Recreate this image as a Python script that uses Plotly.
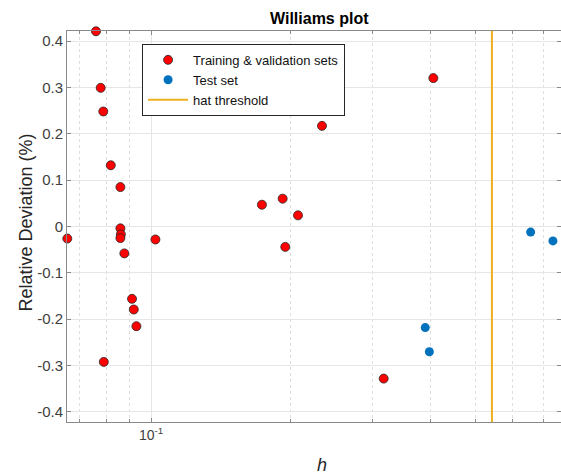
"""
Williams plot: relative deviation vs leverage (h) on a log axis
"""
import numpy as np
import plotly.graph_objects as go

# Training & validation sets (leverage h, relative deviation %)
train_h = [0.0761, 0.0779, 0.0789, 0.0819, 0.0859, 0.0660, 0.0859, 0.0861,
           0.0859, 0.0876, 0.1022, 0.0910, 0.0918, 0.0930, 0.0791, 0.1734,
           0.1922, 0.1947, 0.2074, 0.2336, 0.4060, 0.3173]
train_dev = [0.421, 0.299, 0.248, 0.132, 0.085, -0.026, -0.004, -0.017,
             -0.025, -0.058, -0.028, -0.156, -0.179, -0.215, -0.292, 0.047,
             0.060, -0.044, 0.024, 0.217, 0.320, -0.328]

# Test set
test_h = [0.390, 0.398, 0.658, 0.735]
test_dev = [-0.218, -0.270, -0.012, -0.031]

# warning leverage
hat_threshold = 0.543

y_ticks = [-0.4, -0.3, -0.2, -0.1, 0, 0.1, 0.2, 0.3, 0.4]
y_ticktext = ['-0.4', '-0.3', '-0.2', '-0.1', '0', '0.1', '0.2', '0.3', '0.4']
x_major = [0.1]
x_major_text = ['10<sup>-1</sup>']
x_minor = [0.07, 0.08, 0.09, 0.2, 0.3, 0.4, 0.5, 0.6, 0.7]

y_lim = [-0.4216, 0.4216]
x_lim = [0.0659, 0.765]

FONT = 'Liberation Sans, Arial, sans-serif'
AXIS_GRAY = '#8a8a8a'

fig = go.Figure()

fig.add_trace(go.Scatter(
    x=train_h, y=train_dev,
    mode='markers',
    name='Training & validation sets',
    marker=dict(size=9, color='#ff0000', line=dict(color='#262626', width=0.8)),
    cliponaxis=False
))

fig.add_trace(go.Scatter(
    x=test_h, y=test_dev,
    mode='markers',
    name='Test set',
    marker=dict(size=9, color='#0072bd'),
    cliponaxis=False
))

fig.add_trace(go.Scatter(
    x=[hat_threshold, hat_threshold], y=y_lim,
    mode='lines',
    name='hat threshold',
    line=dict(color='#edb120', width=2)
))

fig.update_layout(
    width=561,
    height=475,
    margin=dict(l=67, r=0, t=31, b=53),
    paper_bgcolor='white',
    plot_bgcolor='white',
    font=dict(family=FONT, size=14, color='#404040'),
    showlegend=True,
    legend=dict(
        x=0.152, y=0.967,
        xanchor='left', yanchor='top',
        bgcolor='white',
        bordercolor='#262626',
        borderwidth=1,
        font=dict(family=FONT, size=13, color='#111111'),
        itemwidth=40,
        tracegroupgap=0
    ),
    xaxis=dict(
        type='log',
        range=[np.log10(x_lim[0]), np.log10(x_lim[1])],
        tickmode='array',
        tickvals=x_major,
        ticktext=x_major_text,
        ticks='inside',
        ticklen=4,
        tickcolor=AXIS_GRAY,
        showline=True,
        linecolor=AXIS_GRAY,
        linewidth=1,
        mirror='ticks',
        showgrid=True,
        gridcolor='#e6e6e6',
        zeroline=False,
        tickfont=dict(size=14, color='#404040'),
        minor=dict(
            tickmode='array',
            tickvals=x_minor,
            ticks='inside',
            ticklen=3,
            tickcolor=AXIS_GRAY,
            showgrid=True,
            gridcolor='#dedede',
            griddash='dot',
            gridwidth=1
        )
    ),
    yaxis=dict(
        range=y_lim,
        tickmode='array',
        tickvals=y_ticks,
        ticktext=y_ticktext,
        ticks='inside',
        ticklen=4,
        tickcolor=AXIS_GRAY,
        showline=True,
        linecolor=AXIS_GRAY,
        linewidth=1,
        mirror='ticks',
        showgrid=True,
        gridcolor='#e6e6e6',
        zeroline=False,
        tickfont=dict(size=15, color='#404040')
    )
)

# title and axis labels placed as in the source (axes run past the right edge)
fig.add_annotation(
    text='<b>Williams plot</b>',
    xref='paper', yref='paper', x=0.512, y=1.031,
    xanchor='center', yanchor='middle', showarrow=False,
    font=dict(family=FONT, size=16, color='#000000')
)
fig.add_annotation(
    text='<i>h</i>',
    xref='paper', yref='paper', x=0.517, y=-0.11,
    xanchor='center', yanchor='middle', showarrow=False,
    font=dict(family=FONT, size=18, color='#262626')
)
fig.add_annotation(
    text='Relative Deviation (%)',
    xref='paper', yref='paper', x=-0.083, y=0.51,
    xanchor='center', yanchor='middle', showarrow=False, textangle=-90,
    font=dict(family=FONT, size=18, color='#262626')
)

# drop the default page margin so the figure fills the window
fig.write_html(
    "out.html",
    config={'displayModeBar': False},
    post_script="document.body.style.margin='0';document.body.style.overflow='hidden';"
)
